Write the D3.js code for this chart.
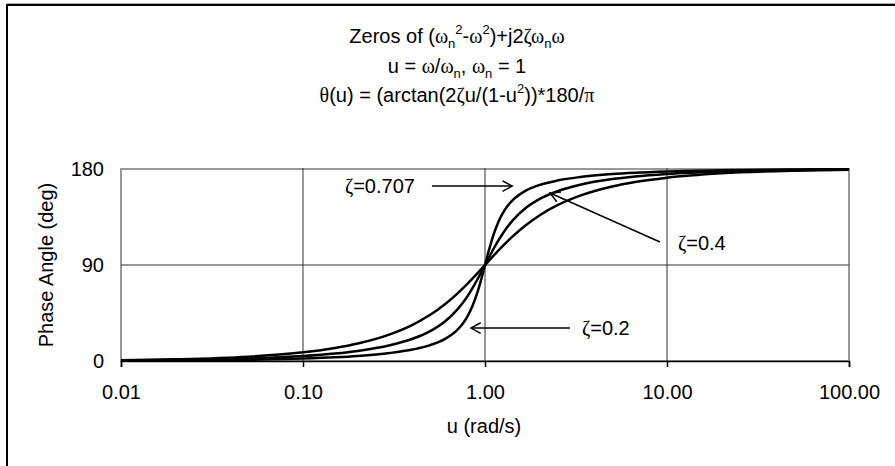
<!DOCTYPE html>
<html><head><meta charset="utf-8">
<script src="https://cdn.jsdelivr.net/npm/d3@7"></script>
<style>
html,body{margin:0;padding:0;background:#fff;}
svg{display:block;}
text{font-family:"Liberation Sans",Arial,sans-serif;fill:#000;}
.gk{font-family:"Liberation Serif","Times New Roman",serif;}
</style></head>
<body>
<script>
// ---- data ----
const uVals = [0.01,0.02,0.05,0.1,0.15,0.2,0.3,0.4,0.5,0.6,0.7,0.75,0.8,0.85,0.9,0.95,1,
  1.053,1.111,1.176,1.25,1.333,1.429,1.667,2,2.5,3.333,5,6.667,10,20,50,100];
const theta02 = [0.23,0.46,1.15,2.31,3.51,4.76,7.51,10.78,14.93,20.56,28.77,34.44,41.63,50.78,62.18,75.61,90,
  104.39,117.82,129.22,138.37,145.56,151.23,159.44,165.07,169.22,172.49,175.24,176.49,177.69,178.85,179.54,179.77];
const theta04 = [0.46,0.92,2.30,4.62,7.00,9.46,14.78,20.85,28.07,36.87,47.68,53.90,60.64,67.80,75.22,82.69,90,
  97.31,104.78,112.20,119.36,126.10,132.32,143.13,151.93,159.15,165.22,170.54,173.00,175.38,177.70,179.08,179.54];
const theta0707 = [0.81,1.62,4.05,8.13,12.24,16.41,25.00,33.96,43.31,52.97,62.74,67.58,72.35,77.00,81.51,85.85,90,
  94.15,98.49,103.00,107.65,112.42,117.26,127.03,136.69,146.04,155.00,163.59,167.76,171.87,175.95,178.38,179.19];
const xTicks = [0.01,0.1,1,10,100];
const yTicks = [0,90,180];
const annLabels = ["0.707","0.4","0.2"];
const annTip  = [[1.41,164],[2.277,157.5],[0.838,30.9]];
const annTail = [[0.511,164],[9.15,111.6],[2.93,30.9]];

// ---- chart ----
const W=895,H=466;
const svg=d3.select("body").append("svg").attr("width",W).attr("height",H);
const x=d3.scaleLog().domain([0.01,100]).range([121,849]);
const y=d3.scaleLinear().domain([0,180]).range([361,169]);

// outer frame
svg.append("rect").attr("x",7).attr("y",5).attr("width",1000).attr("height",1000)
  .attr("fill","#fff").attr("stroke","#000").attr("stroke-width",2);
svg.append("line").attr("x1",7).attr("x2",W).attr("y1",3.5).attr("y2",3.5).attr("stroke","#aaa").attr("stroke-width",1);

// plot border
svg.append("rect").attr("x",x.range()[0]).attr("y",y.range()[1])
  .attr("width",x.range()[1]-x.range()[0]).attr("height",y.range()[0]-y.range()[1])
  .attr("fill","#fff").attr("stroke","#999").attr("stroke-width",2);

// grid
const g=svg.append("g");
g.selectAll(".vg").data(xTicks.slice(1,-1)).enter().append("line")
  .attr("x1",d=>x(d)).attr("x2",d=>x(d)).attr("y1",y(180)-1).attr("y2",y(0))
  .attr("stroke","#333").attr("stroke-width",1);
g.selectAll(".hg").data(yTicks.slice(1,-1)).enter().append("line")
  .attr("x1",x(0.01)).attr("x2",x(100)).attr("y1",d=>y(d)).attr("y2",d=>y(d))
  .attr("stroke","#333").attr("stroke-width",1);

// curves
const line=d3.line().x(d=>x(d[0])).y(d=>y(d[1])).curve(d3.curveMonotoneX);
[theta02,theta04,theta0707].forEach(s=>{
  svg.append("path").attr("d",line(uVals.map((u,i)=>[u,s[i]])))
    .attr("fill","none").attr("stroke","#000").attr("stroke-width",2.5).attr("stroke-linejoin","round");
});

// x axis
const xa=svg.append("g").attr("transform",`translate(0,${y(0)})`)
  .call(d3.axisBottom(x).tickValues(xTicks).tickFormat(d3.format(".2f")).tickSize(6).tickPadding(18));
xa.select(".domain").attr("stroke","#000").attr("stroke-width",1.5);
xa.selectAll(".tick line").attr("stroke","#000").attr("stroke-width",1.5);
xa.selectAll(".tick text").attr("font-size",20).attr("font-family","Liberation Sans, Arial, sans-serif").attr("fill","#000");

// y axis
const ya=svg.append("g").attr("transform",`translate(${x(0.01)},0)`)
  .call(d3.axisLeft(y).tickValues(yTicks).tickSize(0).tickPadding(17));
ya.select(".domain").remove();
ya.selectAll(".tick text").attr("font-size",20).attr("font-family","Liberation Sans, Arial, sans-serif").attr("fill","#000");

// axis titles
svg.append("text").attr("x",484).attr("y",433).attr("text-anchor","middle").attr("font-size",20).text("u (rad/s)");
svg.append("text").attr("transform","translate(53,265) rotate(-90)").attr("text-anchor","middle").attr("font-size",20).text("Phase Angle (deg)");

// title
function rich(t,parts){
  parts.forEach(p=>{
    const ts=t.append("tspan").text(p.t);
    if(p.g) ts.attr("class","gk");
    if(p.sub){ts.attr("font-size",13).attr("dy",5);}
    if(p.sup){ts.attr("font-size",13).attr("dy",p.dy!==undefined?p.dy:-9);}
    if(p.back!==undefined) ts.attr("dy",p.back);
  });
}
const t1=svg.append("text").attr("x",457).attr("y",43).attr("text-anchor","middle").attr("font-size",20);
rich(t1,[{t:"Zeros of ("},{t:"ω",g:1},{t:"n",sub:1},{t:"2",sup:1,dy:-14},{t:"-",back:9},{t:"ω",g:1},{t:"2",sup:1,dy:-9},
  {t:")+j2",back:9},{t:"ζω",g:1},{t:"n",sub:1},{t:"ω",g:1,back:-5}]);
const t2=svg.append("text").attr("x",457).attr("y",73).attr("text-anchor","middle").attr("font-size",20);
rich(t2,[{t:"u = "},{t:"ω",g:1},{t:"/"},{t:"ω",g:1},{t:"n",sub:1},{t:", ",back:-5},{t:"ω",g:1},{t:"n",sub:1},{t:" = 1",back:-5}]);
const t3=svg.append("text").attr("x",457).attr("y",102).attr("text-anchor","middle").attr("font-size",20);
rich(t3,[{t:"θ",g:1},{t:"(u) = (arctan(2"},{t:"ζ",g:1},{t:"u/(1-u"},{t:"2",sup:1,dy:-9},{t:"))*180/",back:9},{t:"π",g:1}]);

// annotations
annLabels.forEach((lab,i)=>{
  const tx=x(annTail[i][0]),ty=y(annTail[i][1]),px=x(annTip[i][0]),py=y(annTip[i][1]);
  svg.append("line").attr("x1",tx).attr("y1",ty).attr("x2",px).attr("y2",py)
    .attr("stroke","#000").attr("stroke-width",1.5);
  const a=Math.atan2(py-ty,px-tx),L=11,s=0.5;
  const p1=[px-L*Math.cos(a-s),py-L*Math.sin(a-s)],p2=[px-L*Math.cos(a+s),py-L*Math.sin(a+s)];
  svg.append("path").attr("d",`M${p1}L${px},${py}L${p2}`).attr("fill","none").attr("stroke","#000").attr("stroke-width",1.5);
  const t=svg.append("text").attr("font-size",20).attr("dy","0.35em");
  if(i===0){t.attr("x",tx-17).attr("y",ty).attr("text-anchor","end");}
  else if(i===1){t.attr("x",tx+18).attr("y",ty+1);}
  else {t.attr("x",tx+12).attr("y",ty);}
  t.append("tspan").attr("class","gk").text("ζ");
  t.append("tspan").text("="+lab);
});
</script>
</body></html>
